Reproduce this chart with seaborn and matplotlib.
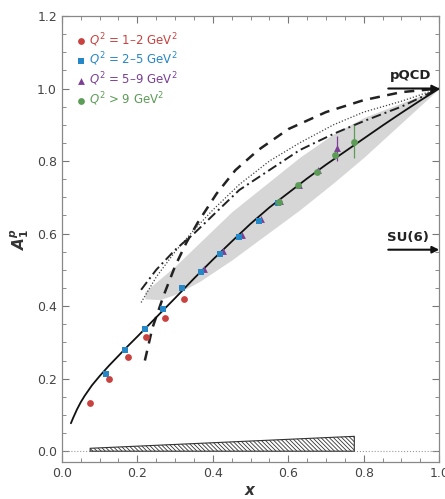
import numpy as np
import pandas as pd
import matplotlib
matplotlib.use('Agg')
import matplotlib.pyplot as plt
import seaborn as sns
from matplotlib.ticker import MultipleLocator

# Q^2 bins
q12_x = [0.074, 0.124, 0.174, 0.224, 0.274, 0.325]
q12_y = [0.132, 0.200, 0.260, 0.315, 0.366, 0.420]
q25_x = [0.118, 0.168, 0.220, 0.268, 0.319, 0.370, 0.420, 0.470, 0.522, 0.574]
q25_y = [0.214, 0.278, 0.336, 0.392, 0.449, 0.494, 0.543, 0.590, 0.634, 0.683]
q59_x = [0.378, 0.428, 0.478, 0.528, 0.578, 0.628, 0.678, 0.728]
q59_y = [0.503, 0.551, 0.597, 0.641, 0.690, 0.733, 0.775, 0.835]
q59_err = [0, 0, 0, 0, 0, 0, 0, 0.035]
q9_x = [0.575, 0.625, 0.675, 0.725, 0.775]
q9_y = [0.687, 0.733, 0.770, 0.817, 0.853]
q9_err = [0, 0, 0, 0.01, 0.045]

# fit curve (solid)
fit_x = [0.024, 0.03, 0.04, 0.05, 0.06, 0.08, 0.10, 0.125, 0.15, 0.175, 0.20, 0.25,
         0.30, 0.35, 0.40, 0.45, 0.50, 0.55, 0.60, 0.65, 0.70, 0.75, 0.80, 0.85,
         0.90, 0.95, 1.00]
fit_y = [0.077, 0.092, 0.115, 0.135, 0.152, 0.182, 0.207, 0.236, 0.263, 0.290, 0.316,
         0.369, 0.422, 0.476, 0.528, 0.578, 0.627, 0.672, 0.712, 0.752, 0.790, 0.826,
         0.862, 0.898, 0.933, 0.967, 1.000]

# model curves
dash_x = [0.22, 0.24, 0.27, 0.30, 0.33, 0.36, 0.41, 0.46, 0.52, 0.60, 0.70, 0.80, 0.90, 1.00]
dash_y = [0.25, 0.34, 0.43, 0.51, 0.575, 0.63, 0.71, 0.775, 0.83, 0.888, 0.935, 0.968, 0.99, 1.00]
dot_x = [0.21, 0.25, 0.30, 0.35, 0.40, 0.47, 0.55, 0.63, 0.72, 0.80, 0.90, 1.00]
dot_y = [0.41, 0.48, 0.55, 0.61, 0.665, 0.735, 0.80, 0.85, 0.90, 0.935, 0.965, 1.00]
dashdot_x = [0.21, 0.25, 0.30, 0.35, 0.40, 0.47, 0.55, 0.63, 0.72, 0.80, 0.90, 1.00]
dashdot_y = [0.445, 0.50, 0.555, 0.60, 0.65, 0.72, 0.775, 0.83, 0.875, 0.91, 0.95, 1.00]

# gray error band
band_x = [0.22, 0.26, 0.30, 0.365, 0.45, 0.54, 0.63, 0.72, 0.80, 0.90, 1.00]
band_lo = [0.42, 0.418, 0.432, 0.468, 0.527, 0.596, 0.665, 0.74, 0.81, 0.905, 1.00]
band_hi = [0.44, 0.475, 0.51, 0.575, 0.66, 0.735, 0.81, 0.875, 0.92, 0.96, 1.00]

# systematic wedge
sys_x = [0.075, 0.775]
sys_hi = [0.008, 0.041]

c_red = '#c8423f'
c_blue = '#2587c6'
c_purple = '#7b3f95'
c_green = '#5c9c57'
labels = [r'$Q^2$ = 1–2 GeV$^2$', r'$Q^2$ = 2–5 GeV$^2$',
          r'$Q^2$ = 5–9 GeV$^2$', r'$Q^2$ > 9 GeV$^2$']

sns.set_style('ticks')
plt.rcParams['font.family'] = ['DejaVu Sans']
plt.rcParams['mathtext.fontset'] = 'dejavusans'
plt.rcParams['hatch.linewidth'] = 0.6

fig, ax = plt.subplots(figsize=(4.45, 4.99), dpi=100)
fig.subplots_adjust(left=0.139, right=0.987, bottom=0.074, top=0.968)

ax.fill_between(band_x, band_lo, band_hi, color='#d6d6d6', lw=0, zorder=1)
ax.axhline(0, color='#999999', lw=0.8, ls=':', zorder=1)
ax.fill_between(sys_x, [0, 0], sys_hi, facecolor='white', edgecolor='#333333',
                hatch='\\' * 8, lw=0.8, zorder=2)

sns.lineplot(x=dash_x, y=dash_y, color='#222222', lw=1.8, ax=ax, zorder=3,
             linestyle=(0, (4, 3)))
sns.lineplot(x=dot_x, y=dot_y, color='#444444', lw=0.9, ax=ax, zorder=3,
             linestyle=(0, (1, 1.5)))
sns.lineplot(x=dashdot_x, y=dashdot_y, color='#222222', lw=1.4, ax=ax, zorder=3,
             linestyle=(0, (5, 2, 1, 2)))
sns.lineplot(x=fit_x, y=fit_y, color='#111111', lw=1.3, ax=ax, zorder=4)

ax.errorbar(q59_x, q59_y, yerr=q59_err, fmt='none', ecolor=c_purple, lw=0.9, zorder=5)
ax.errorbar(q9_x, q9_y, yerr=q9_err, fmt='none', ecolor=c_green, lw=0.9, zorder=5)

sns.scatterplot(x=q12_x, y=q12_y, color=c_red, marker='o', s=24, lw=0, ax=ax,
                zorder=6, label=labels[0])
sns.scatterplot(x=q25_x, y=q25_y, color=c_blue, marker='s', s=22, lw=0, ax=ax,
                zorder=6, label=labels[1])
sns.scatterplot(x=q59_x, y=q59_y, color=c_purple, marker='^', s=24, lw=0, ax=ax,
                zorder=5, label=labels[2])
sns.scatterplot(x=q9_x, y=q9_y, color=c_green, marker='o', s=24, lw=0, ax=ax,
                zorder=6, label=labels[3])

leg = ax.legend(loc='upper left', bbox_to_anchor=(0.01, 0.985), frameon=False,
                handletextpad=0.1, handlelength=1.2, labelspacing=0.2,
                fontsize=8.5, borderaxespad=0.3,
                labelcolor=[c_red, c_blue, c_purple, c_green])

# arrows
ax.annotate('', xy=(1.0, 1.0), xytext=(0.865, 1.0), annotation_clip=False,
            arrowprops=dict(arrowstyle='-|>', color='#111111', lw=1.5,
                            mutation_scale=10, shrinkA=0, shrinkB=0))
ax.text(0.925, 1.017, 'pQCD', ha='center', va='bottom', fontsize=9.5,
        fontweight='bold', color='#222222')
ax.annotate('', xy=(1.0, 5 / 9), xytext=(0.865, 5 / 9), annotation_clip=False,
            arrowprops=dict(arrowstyle='-|>', color='#111111', lw=1.5,
                            mutation_scale=10, shrinkA=0, shrinkB=0))
ax.text(0.918, 0.572, 'SU(6)', ha='center', va='bottom', fontsize=9.5,
        fontweight='bold', color='#222222')

ax.set_xlim(0, 1.0)
ax.set_ylim(-0.03, 1.2)
ax.xaxis.set_major_locator(MultipleLocator(0.2))
ax.xaxis.set_minor_locator(MultipleLocator(0.05))
ax.yaxis.set_major_locator(MultipleLocator(0.2))
ax.yaxis.set_minor_locator(MultipleLocator(0.05))
ax.tick_params(which='both', direction='in', top=True, right=True,
               color='#777777', labelcolor='#444444', labelsize=9)
ax.tick_params(which='major', length=5, width=0.8)
ax.tick_params(which='minor', length=3, width=0.6)
ax.xaxis.set_major_formatter(matplotlib.ticker.FormatStrFormatter('%.1f'))
ax.yaxis.set_major_formatter(matplotlib.ticker.FormatStrFormatter('%.1f'))
for s in ax.spines.values():
    s.set_color('#888888')
    s.set_linewidth(0.9)

ax.set_xlabel(r'$\mathbfit{x}$', fontsize=11, color='#333333', labelpad=2)
ax.set_ylabel(r'$\mathbfit{A}_\mathbf{1}^\mathbfit{p}$', fontsize=11,
              color='#333333', labelpad=4)

fig.savefig('out.png', dpi=100)
